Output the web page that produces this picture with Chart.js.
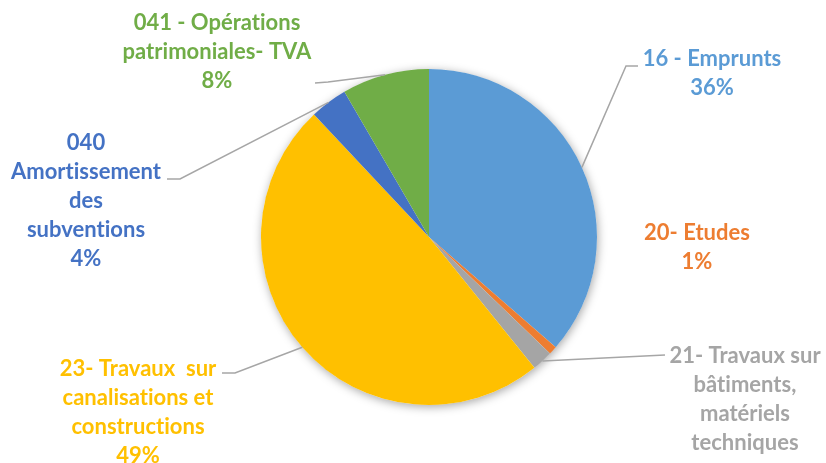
<!DOCTYPE html>
<html>
<head>
<meta charset="utf-8">
<script src="https://cdn.jsdelivr.net/npm/chart.js@4"></script>
<style>
html,body{margin:0;padding:0;background:#fff;}
#wrap{width:826px;height:463px;position:relative;}
</style>
</head>
<body>
<div id="wrap"><canvas id="c" width="826" height="463"></canvas></div>
<script>
// ---- data ----
const categories = ["16 - Emprunts", "20- Etudes", "21- Travaux sur bâtiments, matériels techniques", "23- Travaux  sur canalisations et constructions", "040 Amortissement des subventions", "041 - Opérations patrimoniales- TVA"];
const values = [36.4, 0.8, 2.0, 48.8, 3.6, 8.4];
const colors = ["#5B9BD5", "#ED7D31", "#A5A5A5", "#FFC000", "#4472C4", "#70AD47"];
const labelLines = [
  ["16 - Emprunts"],
  ["20- Etudes"],
  ["21- Travaux sur", "bâtiments,", "matériels", "techniques"],
  ["23- Travaux  sur", "canalisations et", "constructions"],
  ["040", "Amortissement", "des", "subventions"],
  ["041 - Opérations", "patrimoniales- TVA"]
];
const showPct = [true, true, false, true, true, true];

// ---- layout (label placement) ----
const labelPos = [
  {x: 712, y: 59},
  {x: 697, y: 233},
  {x: 745, y: 356},
  {x: 138, y: 369},
  {x: 86,  y: 143},
  {x: 217, y: 23}
];
const leaders = [
  [{x: 626, y: 66}, {x: 638, y: 66}],
  null,
  [{x: 665, y: 355}],
  [{x: 235, y: 373}, {x: 222, y: 373}],
  [{x: 180, y: 179}, {x: 167, y: 179}],
  [{x: 328, y: 82}, {x: 315, y: 83}]
];
const LINE_H = 29;
const FONT = "bold 22px Lato, 'Open Sans', sans-serif";

const shadowPlugin = {
  id: 'pieShadow',
  beforeDatasetsDraw(chart) {
    const arc = chart.getDatasetMeta(0).data[0];
    if (!arc) return;
    const ctx = chart.ctx;
    ctx.save();
    ctx.shadowColor = 'rgba(0,0,0,0.35)';
    ctx.shadowBlur = 10;
    ctx.shadowOffsetX = 1;
    ctx.shadowOffsetY = 2;
    ctx.fillStyle = '#ffffff';
    ctx.beginPath();
    ctx.arc(arc.x, arc.y, arc.outerRadius, 0, Math.PI * 2);
    ctx.fill();
    ctx.restore();
  }
};

const labelPlugin = {
  id: 'outLabels',
  afterDatasetsDraw(chart) {
    const ctx = chart.ctx;
    const meta = chart.getDatasetMeta(0);
    const total = values.reduce((a, b) => a + b, 0);
    meta.data.forEach((arc, i) => {
      const mid = (arc.startAngle + arc.endAngle) / 2;
      const ex = arc.x + Math.cos(mid) * arc.outerRadius;
      const ey = arc.y + Math.sin(mid) * arc.outerRadius;
      if (leaders[i]) {
        ctx.save();
        ctx.strokeStyle = '#A6A6A6';
        ctx.lineWidth = 1.5;
        ctx.beginPath();
        ctx.moveTo(ex, ey);
        leaders[i].forEach(p => ctx.lineTo(p.x, p.y));
        ctx.stroke();
        ctx.restore();
      }
      const lines = labelLines[i].slice();
      if (showPct[i]) lines.push(Math.round(values[i] / total * 100) + '%');
      ctx.save();
      ctx.font = FONT;
      if ('letterSpacing' in ctx) ctx.letterSpacing = '0.01px';
      ctx.fillStyle = colors[i];
      ctx.textAlign = 'center';
      ctx.textBaseline = 'middle';
      lines.forEach((t, k) => ctx.fillText(t, labelPos[i].x, labelPos[i].y + k * LINE_H));
      ctx.restore();
    });
  }
};

new Chart(document.getElementById('c'), {
  type: 'pie',
  data: {
    labels: categories,
    datasets: [{
      data: values,
      backgroundColor: colors,
      borderWidth: 0
    }]
  },
  options: {
    responsive: false,
    animation: false,
    layout: {padding: {top: 69, bottom: 58, left: 32, right: 0}},
    plugins: {legend: {display: false}, tooltip: {enabled: false}}
  },
  plugins: [shadowPlugin, labelPlugin]
});
</script>
</body>
</html>
